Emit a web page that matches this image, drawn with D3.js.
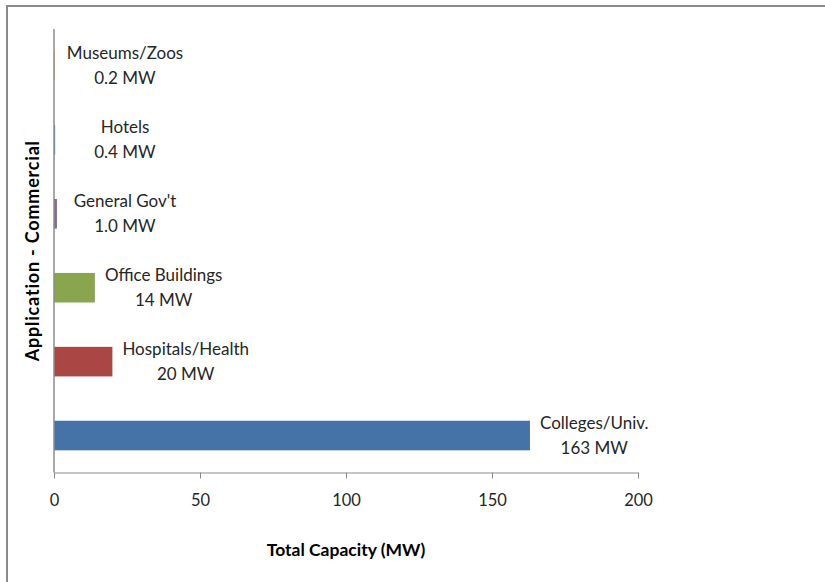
<!DOCTYPE html>
<html><head><meta charset="utf-8">
<script src="https://cdn.jsdelivr.net/npm/d3@7"></script>
<style>body{margin:0;background:#fff}svg{display:block}text{font-family:Lato,"Open Sans",sans-serif}</style>
</head><body>
<svg id="c" width="825" height="582"></svg>
<script>
const categories = ["Colleges/Univ.","Hospitals/Health","Office Buildings","General Gov't","Hotels","Museums/Zoos"];
const values = [163, 20, 14, 1.0, 0.4, 0.2];
const valueLabels = ["163 MW","20 MW","14 MW","1.0 MW","0.4 MW","0.2 MW"];
const colors = ["#4572A7","#AA4643","#89A54E","#80699B","#4198AF","#DB843D"];
const xTicks = [0,50,100,150,200];

const svg = d3.select("#c");
// outer frame
svg.append("path").attr("d","M7,582 L7,6 L825,6").attr("fill","none").attr("stroke","#8a8a8a").attr("stroke-width",2);

const m = {left:54, right:638, top:29, bottom:472.5};
const x = d3.scaleLinear().domain([0,200]).range([m.left,m.right]);
const y = d3.scaleBand().domain(categories).range([m.bottom,m.top]).paddingInner(0.6).paddingOuter(0.3);

// bars
svg.selectAll("rect.bar").data(categories).enter().append("rect")
  .attr("x", x(0)).attr("y", d=>y(d))
  .attr("width",(d,i)=>Math.max(0,x(values[i])-x(0))).attr("height",y.bandwidth())
  .attr("fill",(d,i)=>colors[i]);

// x axis
const xa = svg.append("g").attr("transform",`translate(0,${m.bottom})`)
  .call(d3.axisBottom(x).tickValues(xTicks).tickSize(6).tickPadding(16).tickSizeOuter(0));
xa.select(".domain").attr("stroke","#8c8c8c");
xa.selectAll(".tick line").attr("stroke","#8c8c8c");
xa.selectAll(".tick text").attr("font-size",16.5).attr("fill","#262626").attr("font-family","Lato");
// y axis
svg.append("line").attr("x1",m.left).attr("x2",m.left).attr("y1",m.top).attr("y2",m.bottom).attr("stroke","#8c8c8c").attr("stroke-width",1.5);

// data labels
categories.forEach((c,i)=>{
  const g = svg.append("text").attr("font-size",17).attr("fill","#262626").attr("text-anchor","middle");
  const t1 = g.append("tspan").text(c);
  const t2 = g.append("tspan").text(valueLabels[i]);
  const w = Math.max(t1.node().getComputedTextLength(), t2.node().getComputedTextLength());
  const cx = Math.max(x(values[i]) + 10 + w/2, 125);
  const cy = y(c) + y.bandwidth()/2;
  t1.attr("x",cx).attr("y",cy-12.5).attr("dy","0.35em");
  t2.attr("x",cx).attr("y",cy+12.5).attr("dy","0.35em");
});

// axis titles
svg.append("text").attr("x",x(100)).attr("y",550).attr("dy","0.35em").attr("text-anchor","middle")
  .attr("font-size",17.5).attr("font-weight","bold").attr("fill","#000").text("Total Capacity (MW)");
svg.append("text").attr("transform",`translate(33,${(m.top+m.bottom)/2}) rotate(-90)`).attr("dy","0.35em")
  .attr("text-anchor","middle").attr("font-size",18).attr("font-weight","bold").attr("fill","#000")
  .attr("letter-spacing",0.8).text("Application - Commercial");
</script>
</body></html>
